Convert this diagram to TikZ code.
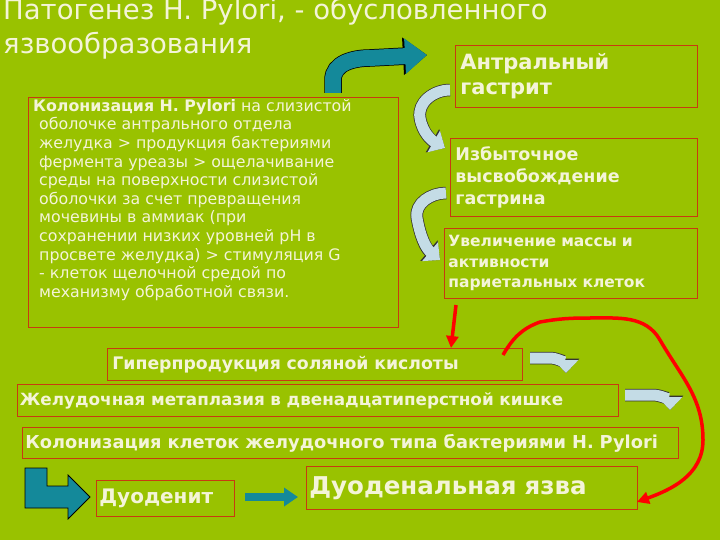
\documentclass[tikz,border=0pt]{standalone}
\usepackage{fontspec}
\setmainfont{DejaVu Sans}
\usetikzlibrary{arrows.meta}
\definecolor{bg}{HTML}{99C200}
\definecolor{txt}{HTML}{F4F4D8}
\definecolor{bd}{HTML}{C83A10}
\definecolor{teal}{HTML}{14899A}
\definecolor{lb}{HTML}{C4DCE6}
\tikzset{
 box/.style={draw=bd, line width=0.8pt, text=txt, inner sep=3pt},
 bluearr/.style={line width=11pt, lb, line join=round, -{Triangle[width=24pt,length=13pt]},
   preaction={draw=black!80, line join=round, line width=12.5pt, -{Triangle[width=26pt,length=14.5pt]}}},
 tealarr/.style={line width=16pt, teal, -{Triangle[width=34pt,length=22pt]},
   preaction={draw=black, line width=17.5pt, -{Triangle[width=36pt,length=24pt]}}},
 redarr/.style={red, line width=3.5pt, -{Triangle[width=12pt,length=12pt]}}
}
\begin{document}
\begin{tikzpicture}[x=1pt,y=-1pt]
\fill[bg] (0,0) rectangle (720,540);
\useasboundingbox (0,0) rectangle (720,540);
% title
\node[text=txt, anchor=north west, align=left, font=\fontsize{27.5}{34}\selectfont, inner sep=0] (title) at (3,-2)
 {Патогенез H. Pylori, - обусловленного\\язвообразования};
% left box
\node[box, anchor=north west, minimum width=370, minimum height=230] (left) at (28,97) {};
\node[text=txt, anchor=north west, align=left, font=\fontsize{15.8}{18.6}\selectfont, inner sep=0] (lefttext) at (33,99)
 {\textbf{Колонизация H. Pylori} на слизистой\\
 \hspace*{6pt}оболочке антрального отдела\\
 \hspace*{6pt}желудка > продукция бактериями\\
 \hspace*{6pt}фермента уреазы > ощелачивание\\
 \hspace*{6pt}среды на поверхности слизистой\\
 \hspace*{6pt}оболочки за счет превращения\\
 \hspace*{6pt}мочевины в аммиак (при\\
 \hspace*{6pt}сохранении низких уровней pH в\\
 \hspace*{6pt}просвете желудка) > стимуляция G\\
 \hspace*{6pt}- клеток щелочной средой по\\
 \hspace*{6pt}механизму обработной связи.};
% right boxes
\node[box, anchor=north west, minimum width=242, minimum height=62, text width=232, align=left,
 font=\bfseries\fontsize{21}{25}\selectfont] (antr) at (455,45) {Антральный\\гастрит};
\node[box, anchor=north west, minimum width=247, minimum height=78, text width=237, align=left,
 font=\bfseries\fontsize{17.5}{22}\selectfont] (izb) at (450,138) {Избыточное\\высвобождение\\гастрина};
\node[box, anchor=north west, minimum width=253, minimum height=70, text width=245, align=left,
 font=\bfseries\fontsize{15.5}{20.5}\selectfont] (uvel) at (444,228) {Увеличение массы и\\активности\\париетальных клеток};
% horizontal boxes
\node[box, anchor=north west, minimum width=415, minimum height=32, text width=405, align=left,
 font=\bfseries\fontsize{17.3}{19}\selectfont] (giper) at (107,348) {Гиперпродукция соляной кислоты};
\node[box, anchor=north west, minimum width=601, minimum height=32, text width=596, align=left,
 font=\bfseries\fontsize{16.8}{19}\selectfont, inner sep=2pt] (zhel) at (17,384) {Желудочная метаплазия в двенадцатиперстной кишке};
\node[box, anchor=north west, minimum width=656, minimum height=31, text width=650, align=left,
 font=\bfseries\fontsize{17.8}{19}\selectfont] (kolon) at (22,427) {Колонизация клеток желудочного типа бактериями H. Pylori};
\node[box, anchor=north west, minimum width=138, minimum height=36, text width=132, align=left,
 font=\bfseries\fontsize{20}{22}\selectfont] (duod) at (96,480) {Дуоденит};
\node[box, anchor=north west, minimum width=331, minimum height=43, text width=325, align=left,
 font=\bfseries\fontsize{24.5}{26}\selectfont, inner sep=3pt] (yazva) at (306,466) {Дуоденальная язва};
% teal curved arrow
\draw[tealarr] (333,93) -- (333,80) to[out=90,in=180] (370,58) -- (427,55);
% blue curved arrows
\draw[bluearr] (450,90) to[out=180,in=100] (420,118) to[out=-80,in=150] (445,148);
\draw[bluearr] (446,193) to[out=180,in=100] (417,218) to[out=-80,in=140] (440,260);
\draw[bluearr] (530,358) -- (550,358) to[out=0,in=90] (566,373);
\draw[bluearr] (625,395) -- (653,395) to[out=0,in=90] (670,410);
% red arrows
\draw[redarr] (456,305) -- (451,348);
\draw[redarr] (503,355) to[out=60,in=200] (540,322) to[out=10,in=180] (590,318)
 to[out=0,in=120] (660,340) to[out=-60,in=90] (703,440) to[out=-90,in=20] (637,502);
% bottom arrows
\draw[fill=teal, draw=black, line width=0.8pt] (25,468) -- (47,468) -- (47,486) -- (68,486) -- (68,475)
  -- (90,497) -- (68,519) -- (68,508) -- (25,508) -- cycle;
\draw[teal, line width=8pt, -{Triangle[width=18pt,length=14pt]}] (245,497) -- (298,497);
\end{tikzpicture}
\end{document}
